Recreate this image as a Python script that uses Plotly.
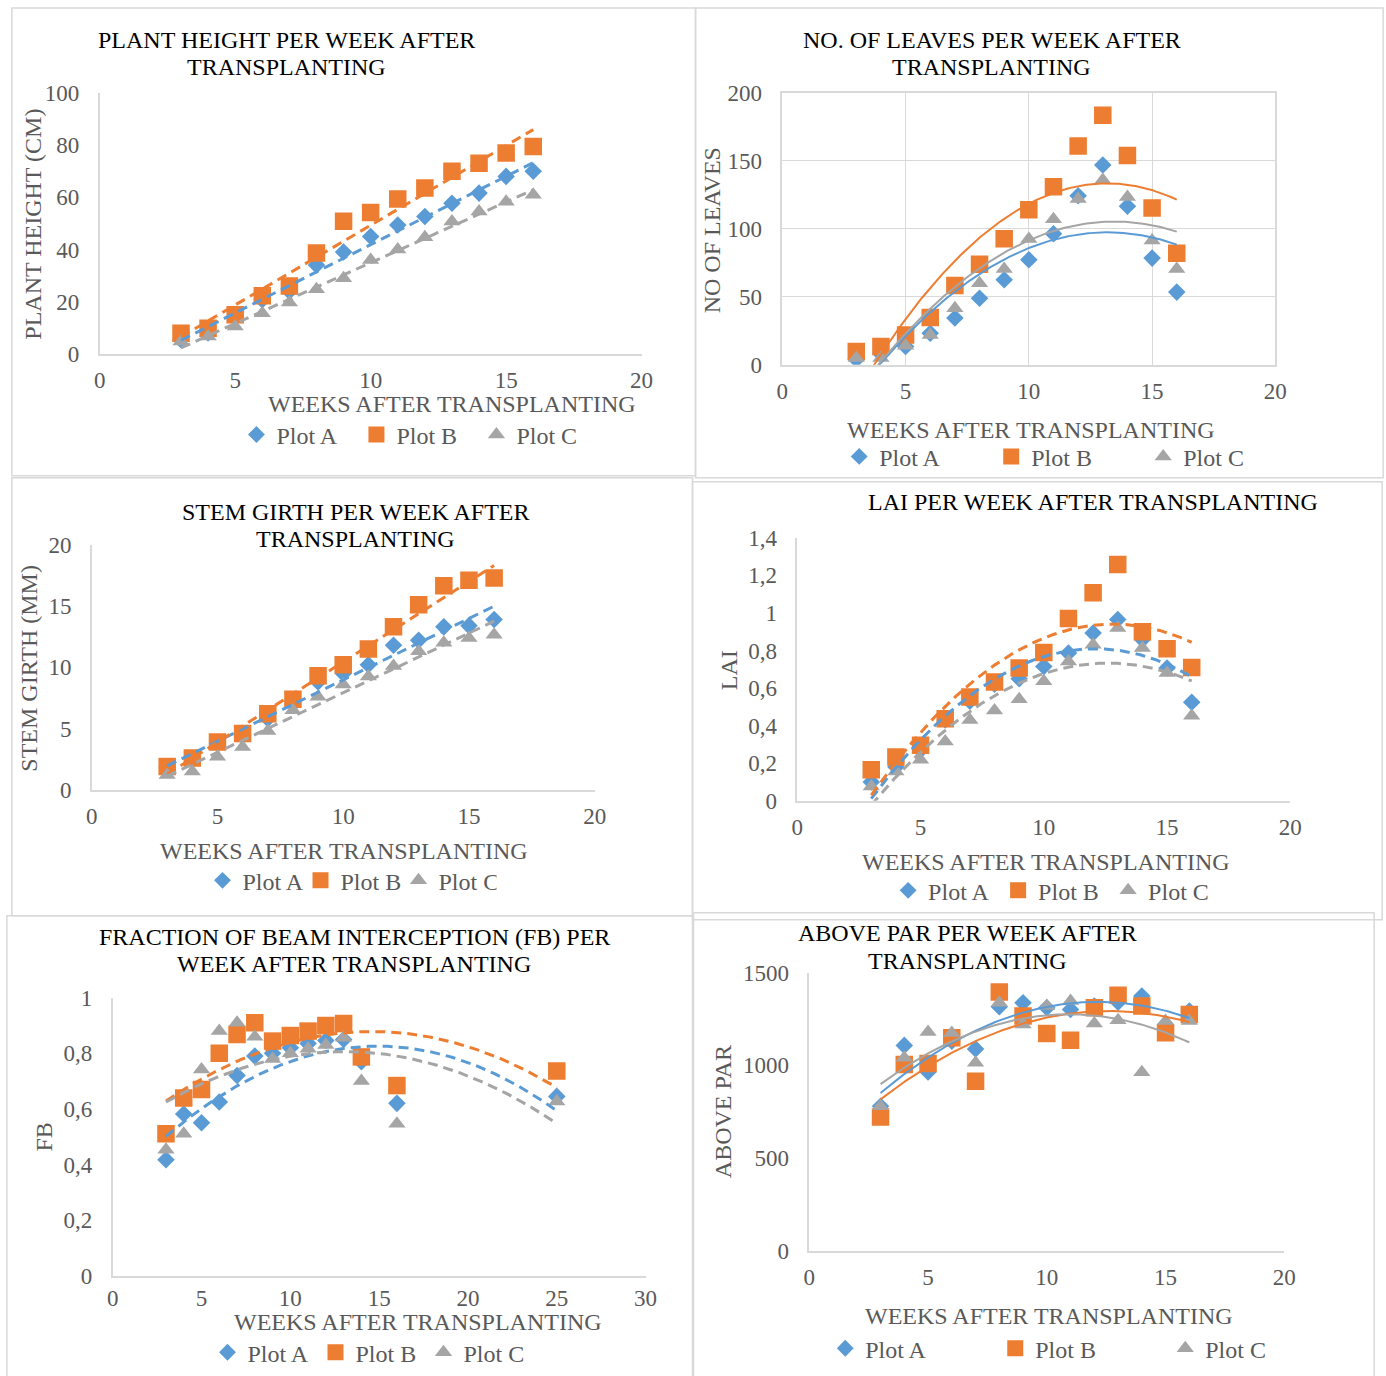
import numpy as np
import plotly.graph_objects as go

W, H = 1386, 1376

# ---------------- data ----------------
weeks = [3, 4, 5, 6, 7, 8, 9, 10, 11, 12, 13, 14, 15, 16]
fb_weeks = [3, 4, 5, 6, 7, 8, 9, 10, 11, 12, 13, 14, 16, 25]

height_a = [5.4, 8.0, 14.0, 20.7, 24.0, 34.0, 39.0, 45.0, 49.4, 52.6, 57.7, 61.6, 68.0, 70.0]
height_b = [7.9, 9.8, 15.0, 22.3, 26.0, 38.6, 50.8, 54.2, 59.3, 63.6, 70.0, 73.0, 77.0, 79.5]
height_c = [4.7, 6.6, 10.5, 15.6, 19.7, 24.8, 29.0, 36.0, 40.0, 44.7, 50.7, 54.5, 58.3, 61.0]

leaves_a = [4, 8, 13.5, 23.3, 34.4, 49, 62.6, 77.3, 96.4, 124.4, 147, 116.6, 78.5, 53.5]
leaves_b = [9.8, 13.5, 22, 34.8, 58.4, 74, 92.8, 114, 131, 161, 183.6, 154, 115.3, 82]
leaves_c = [5, 5, 14, 22, 41.7, 60, 70.4, 92.5, 107, 122, 136, 123.4, 91.5, 70.4]

girth_a = [1.8, 2.5, 3.8, 4.6, 5.8, 7.0, 8.8, 9.5, 10.2, 11.8, 12.2, 13.3, 13.4, 13.9]
girth_b = [1.9, 2.6, 3.9, 4.6, 6.2, 7.4, 9.3, 10.2, 11.5, 13.3, 15.1, 16.65, 17.1, 17.3]
girth_c = [1.2, 1.5, 2.7, 3.5, 4.8, 6.5, 7.6, 8.6, 9.25, 10.1, 11.3, 12.0, 12.4, 12.65]

lai_a = [0.10, 0.18, 0.27, 0.43, 0.53, 0.62, 0.65, 0.715, 0.787, 0.893, 0.965, 0.858, 0.707, 0.524]
lai_b = [0.165, 0.233, 0.295, 0.437, 0.552, 0.632, 0.707, 0.79, 0.97, 1.107, 1.258, 0.90, 0.81, 0.71]
lai_c = [0.076, 0.156, 0.218, 0.316, 0.43, 0.48, 0.54, 0.636, 0.742, 0.83, 0.92, 0.813, 0.68, 0.453]

fb_a = [0.417, 0.582, 0.55, 0.625, 0.72, 0.79, 0.80, 0.82, 0.835, 0.846, 0.85, 0.77, 0.62, 0.645]
fb_b = [0.511, 0.639, 0.67, 0.80, 0.868, 0.91, 0.844, 0.864, 0.88, 0.90, 0.907, 0.787, 0.684, 0.736]
fb_c = [0.453, 0.511, 0.742, 0.88, 0.91, 0.86, 0.78, 0.80, 0.816, 0.83, 0.856, 0.70, 0.547, 0.627]

par_a = [780, 1108, 965, 1131, 1089, 1316, 1338, 1311, 1302, 1320, 1341, 1374, 1221, 1293]
par_b = [722, 1005, 1010, 1149, 915, 1396, 1266, 1172, 1136, 1311, 1379, 1320, 1176, 1275]
par_c = [780, 1041, 1180, 1175, 1014, 1338, 1221, 1320, 1347, 1226, 1244, 963, 1239, 1239]

series_names = ["Plot A", "Plot B", "Plot C"]
colors = ["#5B9BD5", "#ED7D31", "#A5A5A5"]
symbols = ["diamond", "square", "triangle-up"]
msizes = [13.5, 17.5, 15]
legsizes = [13, 16, 15]

FONT = "Liberation Serif"
GRAY_TXT = "#595959"
AX_COL = "#d9d9d9"
FS = 24
TFS = 23

# screen-pixel -> paper conversion (compensates the capture framing)
SX, OX = 0.989, 4.1
SY, OY = 0.982, 12.1

def px_x(p):
    return ((p - OX) / SX) / W

def px_y(p):
    return 1 - ((p - OY) / SY) / H

panels = [
    dict(x=weeks, ys=[height_a, height_b, height_c], deg=1, dash=True,
         xdom=(98, 641), ydom=(93, 354), xr=[0, 20], xd=5, yr=[0, 100], yd=20,
         title=["PLANT HEIGHT PER WEEK AFTER", "TRANSPLANTING"], tx=285, ty=[40, 67],
         ytitle="PLANT HEIGHT (CM)", ytpos=(31, 224), xtpos=(451, 404), xso=5,
         leg=(262, 435), legsp=120, grid=False, box=(10, 8, 695, 476)),
    dict(x=weeks, ys=[leaves_a, leaves_b, leaves_c], deg=2, dash=False,
         xdom=(782, 1276), ydom=(93, 365), xr=[0, 20], xd=5, yr=[0, 200], yd=50,
         title=["NO. OF LEAVES PER WEEK AFTER", "TRANSPLANTING"], tx=992, ty=[40, 67],
         ytitle="NO OF LEAVES", ytpos=(711, 230), xtpos=(1031, 430), xso=5,
         leg=(866, 457), legsp=152, grid=True, box=(695, 8, 1384, 478)),
    dict(x=weeks, ys=[girth_a, girth_b, girth_c], deg=1, dash=True,
         xdom=(90, 594), ydom=(545, 790), xr=[0, 20], xd=5, yr=[0, 20], yd=5,
         title=["STEM GIRTH PER WEEK AFTER", "TRANSPLANTING"], tx=354, ty=[512, 539],
         ytitle="STEM GIRTH (MM)", ytpos=(27, 668), xtpos=(343, 851), xso=5,
         leg=(228, 881), legsp=98, grid=False, box=(10, 478, 692, 916)),
    dict(x=weeks, ys=[lai_a, lai_b, lai_c], deg=2, dash=True,
         xdom=(797, 1291), ydom=(538, 801), xr=[0, 20], xd=5, yr=[0, 1.4], yd=0.2,
         title=["LAI PER WEEK AFTER TRANSPLANTING"], tx=1093, ty=[502],
         ytitle="LAI", ytpos=(728, 670), xtpos=(1046, 862), xso=5,
         leg=(915, 891), legsp=110, grid=False, box=(692, 482, 1383, 920)),
    dict(x=fb_weeks, ys=[fb_a, fb_b, fb_c], deg=2, dash=True,
         xdom=(111, 645), ydom=(998, 1276), xr=[0, 30], xd=5, yr=[0, 1], yd=0.2,
         title=["FRACTION OF BEAM INTERCEPTION (FB) PER", "WEEK AFTER TRANSPLANTING"],
         tx=353, ty=[937, 964],
         ytitle="FB", ytpos=(42, 1137), xtpos=(417, 1322), xso=1,
         leg=(233, 1353), legsp=108, grid=False, box=(5, 916, 692, 1382)),
    dict(x=weeks, ys=[par_a, par_b, par_c], deg=2, dash=False,
         xdom=(809, 1285), ydom=(973, 1251), xr=[0, 20], xd=5, yr=[0, 1500], yd=500,
         title=["ABOVE PAR PER WEEK AFTER", "TRANSPLANTING"], tx=968, ty=[933, 961],
         ytitle="ABOVE PAR", ytpos=(722, 1112), xtpos=(1049, 1316), xso=5,
         leg=(852, 1349), legsp=170, grid=False, box=(693, 913, 1375, 1382)),
]

fig = go.Figure()
annotations = []
shapes = []
layout_upd = {}

for i, p in enumerate(panels):
    n = i + 1
    xa = "x" if n == 1 else f"x{n}"
    ya = "y" if n == 1 else f"y{n}"
    leg = "legend" if n == 1 else f"legend{n}"
    xs = np.array(p["x"], dtype=float)

    # markers
    for k in range(3):
        fig.add_trace(go.Scatter(
            x=p["x"], y=p["ys"][k], mode="markers", name=series_names[k],
            marker=dict(symbol=symbols[k], size=msizes[k], color=colors[k]),
            xaxis=xa, yaxis=ya, legend=leg, legendgroup=f"{n}{k}",
            showlegend=False, hoverinfo="x+y"))
    # trendlines (least-squares fit of the data)
    xx = np.linspace(xs.min(), xs.max(), 200)
    for k in range(3):
        coef = np.polyfit(xs, np.array(p["ys"][k], dtype=float), p["deg"])
        yy = np.polyval(coef, xx)
        fig.add_trace(go.Scatter(
            x=xx, y=yy, mode="lines",
            line=dict(color=colors[k], width=3 if p["dash"] else 2,
                      dash="10px,6px" if p["dash"] else "solid"),
            xaxis=xa, yaxis=ya, showlegend=False, hoverinfo="skip"))
    # legend entries
    for k in range(3):
        fig.add_trace(go.Scatter(
            x=[None], y=[None], mode="markers", name=series_names[k],
            marker=dict(symbol=symbols[k], size=legsizes[k], color=colors[k]),
            xaxis=xa, yaxis=ya, legend=leg, legendgroup=f"{n}{k}",
            showlegend=True, hoverinfo="skip"))

    xkey = "xaxis" if n == 1 else f"xaxis{n}"
    ykey = "yaxis" if n == 1 else f"yaxis{n}"
    layout_upd[xkey] = dict(
        domain=[px_x(p["xdom"][0]), px_x(p["xdom"][1])], anchor=ya,
        range=p["xr"], dtick=p["xd"], tick0=0, showline=True, linecolor=AX_COL,
        linewidth=1.5, mirror=p["grid"], showgrid=p["grid"], gridcolor=AX_COL,
        zeroline=False, ticks="", ticklabelstandoff=p["xso"],
        tickfont=dict(family=FONT, size=TFS, color=GRAY_TXT), fixedrange=True)
    layout_upd[ykey] = dict(
        domain=[px_y(p["ydom"][1]), px_y(p["ydom"][0])], anchor=xa,
        range=p["yr"], dtick=p["yd"], tick0=0, showline=True, linecolor=AX_COL,
        linewidth=1.5, mirror=p["grid"], showgrid=p["grid"], gridcolor=AX_COL,
        zeroline=False, ticks="", ticklabelstandoff=14,
        tickfont=dict(family=FONT, size=TFS, color=GRAY_TXT), fixedrange=True)
    layout_upd[leg] = dict(
        orientation="h", x=px_x(p["leg"][0] - 27), xanchor="left",
        y=px_y(p["leg"][1]), yanchor="middle", entrywidth=p["legsp"] - 45,
        entrywidthmode="pixels", itemwidth=30, bgcolor="rgba(0,0,0,0)",
        font=dict(family=FONT, size=FS, color=GRAY_TXT))

    for line_text, ly in zip(p["title"], p["ty"]):
        annotations.append(dict(
            text=line_text, x=px_x(p["tx"]), y=px_y(ly),
            xref="paper", yref="paper", xanchor="center", yanchor="middle",
            showarrow=False, font=dict(family=FONT, size=FS, color="#000000")))
    annotations.append(dict(
        text=p["ytitle"], x=px_x(p["ytpos"][0]), y=px_y(p["ytpos"][1]),
        xref="paper", yref="paper", xanchor="center", yanchor="middle",
        textangle=-90, showarrow=False,
        font=dict(family=FONT, size=FS, color=GRAY_TXT)))
    annotations.append(dict(
        text="WEEKS AFTER TRANSPLANTING", x=px_x(p["xtpos"][0]), y=px_y(p["xtpos"][1]),
        xref="paper", yref="paper", xanchor="center", yanchor="middle",
        showarrow=False, font=dict(family=FONT, size=FS, color=GRAY_TXT)))
    b = p["box"]
    shapes.append(dict(type="rect", xref="paper", yref="paper",
                       x0=px_x(b[0]), x1=px_x(b[2]), y0=px_y(b[3]), y1=px_y(b[1]),
                       line=dict(color=AX_COL, width=1.5), fillcolor="rgba(0,0,0,0)",
                       layer="below"))

fig.update_layout(
    width=W, height=H, margin=dict(l=0, r=0, t=0, b=0),
    paper_bgcolor="white", plot_bgcolor="white",
    separators=", ", annotations=annotations, shapes=shapes,
    font=dict(family=FONT), **layout_upd)

fig.write_html(
    "out.html",
    config={"displayModeBar": False},
    post_script="document.body.style.margin='0';document.body.style.overflow='hidden';")
